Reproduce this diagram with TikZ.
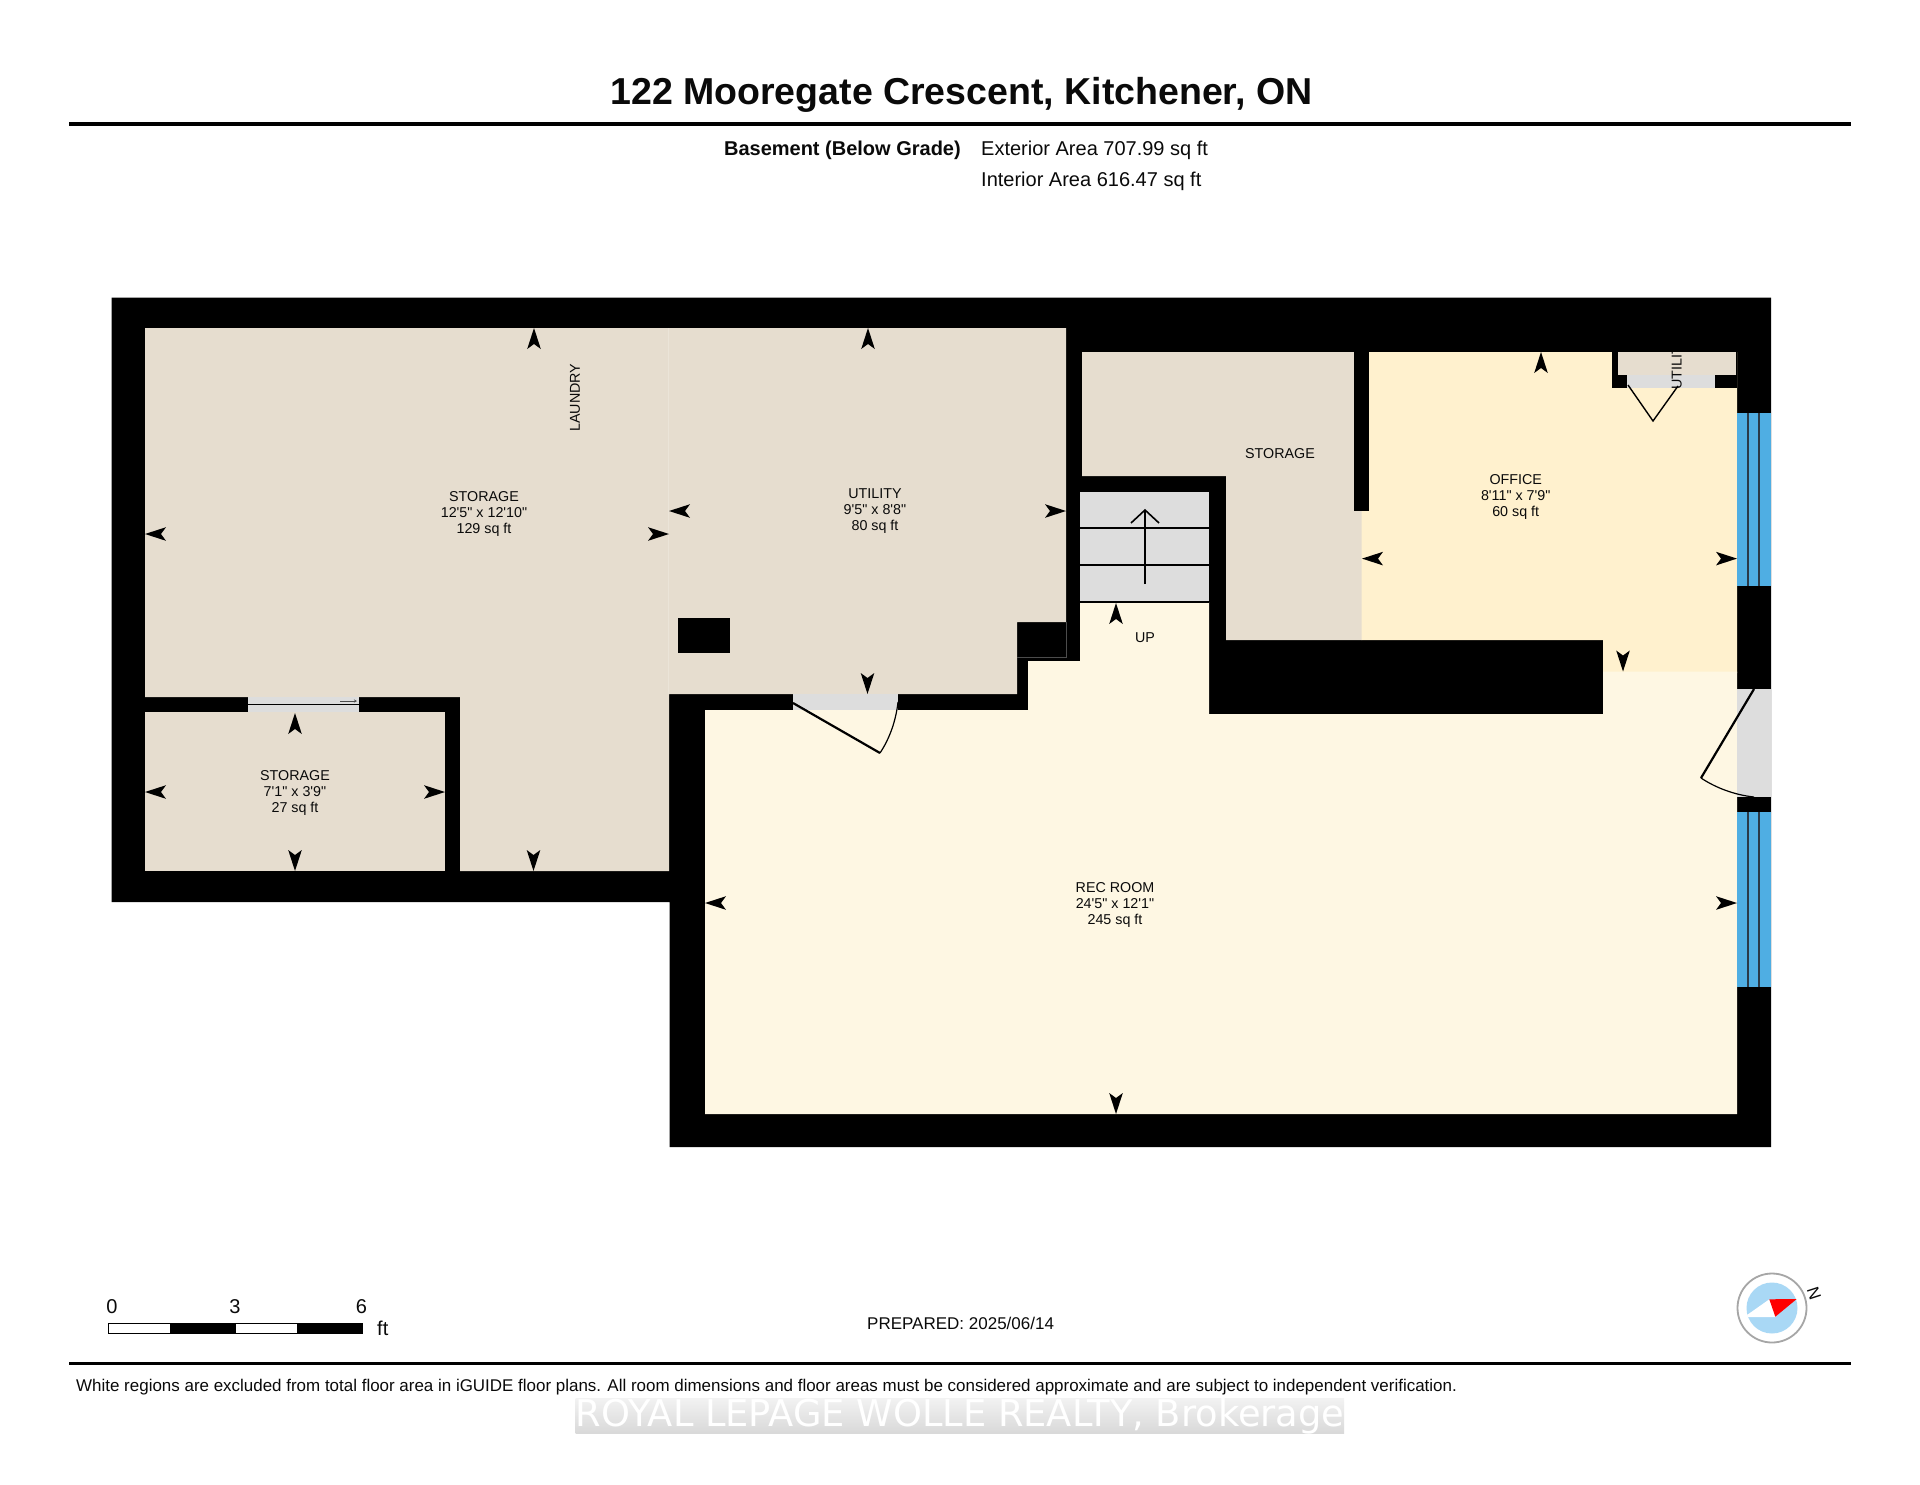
\documentclass[tikz,border=0pt]{standalone}
\usetikzlibrary{arrows.meta}
\usepackage{fontspec}
\setmainfont{Liberation Sans}
\newfontfamily\plainsans{Liberation Sans}
\newfontfamily\wmfont{DejaVu Sans}
\definecolor{roomtan}{HTML}{E6DDCF}
\definecolor{roomoffice}{HTML}{FFF1CE}
\definecolor{roomrec}{HTML}{FEF7E3}
\definecolor{doorgrey}{HTML}{DDDDDD}
\definecolor{winblue}{HTML}{4FAEE3}
\definecolor{winline}{HTML}{2A3A48}
\definecolor{inkblack}{HTML}{0A0A0A}
\tikzset{
  x=1pt,y=-1pt,
  roomlabel/.style={font=\plainsans\fontsize{14.3}{15.8}\selectfont,align=center,inner sep=0pt,text=inkblack},
  headlabel/.style={font=\fontsize{20}{24}\selectfont,inner sep=0pt,text=inkblack},
  leaf/.style={draw=black,line width=2.2pt},
  swing/.style={draw=black,line width=1.2pt},
  closetline/.style={draw=black,line width=1.4pt},
  stepline/.style={draw=black,line width=1.6pt},
  winrule/.style={draw=winline,line width=1.3pt},
  rule/.style={draw=black,line width=3.6pt},
  dimtip/.pic={\fill[black] (0,0)--(-21,6.8)--(-16,0)--(-21,-6.8)--cycle;}
}
\begin{document}
\begin{tikzpicture}
\useasboundingbox (0,0) rectangle (1920,1484);
\fill[white] (0,0) rectangle (1920,1484);

% header
\node[font=\bfseries\fontsize{37.5}{44}\selectfont,inner sep=0pt,text=inkblack] (title) at (961.5,95) {122 Mooregate Crescent, Kitchener, ON};
\coordinate (ruleTopL) at (69,124); \coordinate (ruleTopR) at (1851,124);
\draw[rule] (ruleTopL) -- (ruleTopR);
\node[headlabel,font=\bfseries\fontsize{20}{24}\selectfont,anchor=east] (level) at (961,150.5) {Basement (Below Grade)};
\node[headlabel,anchor=west] (extarea) at (981,150.5) {Exterior Area 707.99 sq ft};
\node[headlabel,anchor=west] (intarea) at (981,181.5) {Interior Area 616.47 sq ft};

% walls silhouette
\fill[black] (111.6,297.5)--(1771,297.5)--(1771,1147)--(669.6,1147)--(669.6,902)--(111.6,902)--cycle;

% rooms
\fill[roomtan] (145,328)--(1066,328)--(1066,622)--(1017,622)--(1017,694)--(669,694)--(669,871)--(460,871)--(460,697)--(145,697)--cycle;
\draw[roomtan!80!white,line width=0.8pt] (668,328)--(668,694);
\fill[roomtan] (145,712) rectangle (445,871);
\fill[roomtan] (1082,352)--(1362,352)--(1362,640)--(1226,640)--(1226,476)--(1082,476)--cycle;
\fill[roomoffice] (1361.5,352)--(1737,352)--(1737,673)--(1603,673)--(1603,640)--(1361.5,640)--cycle;
\fill[roomrec] (705,710)--(1028,710)--(1028,661)--(1080,661)--(1080,602)--(1209,602)--(1209,714)--(1603,714)--(1603,671.5)--(1737,671.5)--(1737,1114)--(705,1114)--cycle;

% interior solid parts
\fill[black] (1354,352) rectangle (1369,511);
\fill[black] (678,618) rectangle (730,653);
\draw[black!70,line width=0.7pt] (1017,657)--(1066,657)--(1066,622);

% stairs
\fill[doorgrey] (1080,492) rectangle (1209,602);
\draw[stepline] (1080,528)--(1209,528);
\draw[stepline] (1080,565)--(1209,565);
\draw[stepline] (1080,602)--(1209,602);
\draw[line width=1.6pt] (1145,584)--(1145,510);
\draw[line width=1.6pt] (1131,523)--(1145,510)--(1159,523);

% closet
\fill[black] (1612,352) rectangle (1737,388);
\fill[roomtan] (1618,352) rectangle (1736,375);
\fill[doorgrey] (1627,375) rectangle (1715,388);
\begin{scope}
\clip (1655,352) rectangle (1700,400);
\node[roomlabel,rotate=90,anchor=west] (closetlabel) at (1676.7,390) {UTILITY};
\end{scope}
\draw[closetline] (1628,385)--(1653,421)--(1678,386);

% windows
\foreach \ya/\yb in {413/586,812/987}{
  \fill[winblue] (1737,\ya) rectangle (1771,\yb);
  \draw[winrule] (1748,\ya)--(1748,\yb);
  \draw[winrule] (1759,\ya)--(1759,\yb);
}

% doors
\fill[doorgrey] (1737,689) rectangle (1771,797);
\draw[leaf] (1754,689)--(1701,778);
\draw[swing] (1701,778) .. controls (1716,788) and (1735,795) .. (1754,797);
\fill[doorgrey] (793,694) rectangle (898,710);
\draw[leaf] (793,703)--(880,753);
\draw[swing] (880,753) .. controls (890,738) and (896,720) .. (898,702);
\fill[doorgrey] (248,697) rectangle (359,712);
\draw[black,line width=1.6pt] (248,704.5)--(359,704.5);
\draw[black!70,line width=0.6pt,-{Stealth[length=3pt,width=3pt]}] (340,701)--(357,701);

% dimension tips
\pic[rotate=90] at (534,328) {dimtip};
\pic[rotate=180] at (145,534) {dimtip};
\pic[rotate=0] at (669,534) {dimtip};
\pic[rotate=-90] at (533.5,871) {dimtip};
\pic[rotate=90] at (868,328) {dimtip};
\pic[rotate=180] at (669,511) {dimtip};
\pic[rotate=0] at (1066,511) {dimtip};
\pic[rotate=-90] at (867.5,694) {dimtip};
\pic[rotate=90] at (295,713) {dimtip};
\pic[rotate=180] at (145,792) {dimtip};
\pic[rotate=0] at (445,792) {dimtip};
\pic[rotate=-90] at (295,871) {dimtip};
\pic[rotate=90] at (1541,352) {dimtip};
\pic[rotate=180] at (1362,558.6) {dimtip};
\pic[rotate=0] at (1737,558.6) {dimtip};
\pic[rotate=-90] at (1623,671.5) {dimtip};
\pic[rotate=90] at (1116,603) {dimtip};
\pic[rotate=180] at (705,903) {dimtip};
\pic[rotate=0] at (1737,903) {dimtip};
\pic[rotate=-90] at (1116,1114) {dimtip};

% room labels
\node[roomlabel] (storageA) at (484,514) {STORAGE\\12'5" x 12'10"\\129 sq ft};
\node[roomlabel,rotate=90] (laundry) at (575,397.5) {LAUNDRY};
\node[roomlabel] (utility) at (875,511) {UTILITY\\9'5" x 8'8"\\80 sq ft};
\node[roomlabel] (storageB) at (295,793) {STORAGE\\7'1" x 3'9"\\27 sq ft};
\node[roomlabel] (storageC) at (1280,453.5) {STORAGE};
\node[roomlabel] (office) at (1515.7,497) {OFFICE\\8'11" x 7'9"\\60 sq ft};
\node[roomlabel] (up) at (1145,637.5) {UP};
\node[roomlabel] (rec) at (1115,905) {REC ROOM\\24'5" x 12'1"\\245 sq ft};

% scale bar
\draw[black,line width=0.8pt,fill=white] (108.5,1323) rectangle (362.5,1333);
\fill[black] (170,1323) rectangle (236,1333);
\fill[black] (297,1323) rectangle (362.5,1333);
\node[headlabel] (sc0) at (112,1307) {0};
\node[headlabel] (sc3) at (235,1307) {3};
\node[headlabel] (sc6) at (361.5,1307) {6};
\node[headlabel,anchor=west] (scft) at (377,1328) {ft};

% prepared
\node[font=\fontsize{17}{20}\selectfont,inner sep=0pt,anchor=west,text=inkblack] (prepared) at (867,1323) {PREPARED: 2025/06/14};

% compass
\draw[draw=black!35,line width=1.8pt,fill=white] (1772,1308) circle (34.5);
\fill[fill={rgb,255:red,169;green,216;blue,245}] (1772,1308) circle (25.5);
\fill[white] (1769.3,1299.3)--(1747,1315)--(1748,1317)--(1776,1317)--cycle;
\fill[red] (1769.3,1299.3)--(1796.7,1299)--(1775.3,1316.7)--cycle;
\node[font=\fontsize{17}{20}\selectfont,inner sep=0pt,rotate=-72,text=inkblack] (north) at (1814,1294) {N};

% footer
\coordinate (ruleBotL) at (69,1363.5); \coordinate (ruleBotR) at (1851,1363.5);
\draw[rule] (ruleBotL) -- (ruleBotR);
\node[font=\fontsize{16.96}{20}\selectfont,inner sep=0pt,anchor=west,text=inkblack] (note) at (76,1387) {White regions are excluded from total floor area in iGUIDE floor plans. All room dimensions and floor areas must be considered approximate and are subject to independent verification.};

% watermark
\shade[top color=white!95!black,bottom color=white!85!black] (575.5,1398) rectangle (1344,1433);
\node[font=\wmfont\fontsize{36.8}{42}\selectfont,text=white,inner sep=0pt] (mark) at (960,1416) {ROYAL LEPAGE WOLLE REALTY, Brokerage};
\end{tikzpicture}
\end{document}
